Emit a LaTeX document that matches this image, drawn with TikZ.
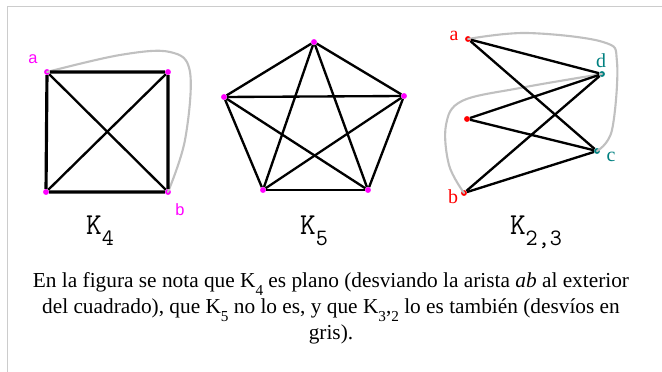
\documentclass[tikz,border=0pt]{standalone}
\usepackage{fontspec}
\setmainfont{Liberation Serif}
\newfontfamily\sansfam{Liberation Sans}
\definecolor{rosa}{RGB}{255,0,255}
\definecolor{verdeazul}{RGB}{0,128,128}
\definecolor{grisdesvio}{RGB}{192,192,192}
\definecolor{marco}{RGB}{204,204,204}
\tikzset{
    vertice/.style={circle, fill=#1, inner sep=0pt, minimum size=5pt},
    arista/.style={line width=2pt},
    borde/.style={line width=2.7pt},
    desvio/.style={draw=grisdesvio, line width=1.8pt, line cap=round},
    nombre/.style={font=\ttfamily\fontsize{26}{26}\selectfont, anchor=base, inner sep=0pt},
    etiqueta/.style={font=\sansfam\fontsize{14}{14}\selectfont, text=#1, inner sep=0pt},
    letra/.style={font=\fontsize{17}{17}\selectfont, text=#1, inner sep=0pt},
    nota/.style={font=\fontsize{18.2}{22.2}\selectfont, align=center, anchor=base, inner sep=0pt}
}
\newcommand{\bajo}[1]{\raisebox{-0.35em}{\fontsize{20}{20}\selectfont #1}}
\newcommand{\sub}[1]{\raisebox{-0.34em}{\fontsize{13}{13}\selectfont #1}}

\begin{document}
\begin{tikzpicture}[x=0.03cm, y=-0.03cm]
\useasboundingbox (0,0) rectangle (662,372);
\draw[marco, line width=0.85pt] (7,372) -- (7,7) -- (662,7);

% K4
\node[vertice=rosa] (a4) at (47,72) {};
\node[vertice=rosa] (d4) at (168,72) {};
\node[vertice=rosa] (c4) at (46,192) {};
\node[vertice=rosa] (b4) at (168,192) {};
\draw[desvio] plot[smooth, tension=0.6] coordinates {(a4) (120,55) (170,52) (190,72) (185,140) (b4)};
\draw[borde] (a4) -- (d4) -- (b4) -- (c4) -- (a4);
\draw[arista] (a4) -- (b4);
\draw[arista] (d4) -- (c4);
\node[etiqueta=rosa] (la4) at (33,59) {a};
\node[etiqueta=rosa] (lb4) at (180,210) {b};
\node[nombre] (n4) at (100,235) {K\bajo{4}};

% K5
\node[vertice=rosa] (p1) at (314,42) {};
\node[vertice=rosa] (p2) at (224,97) {};
\node[vertice=rosa] (p3) at (263,190) {};
\node[vertice=rosa] (p4) at (368,190) {};
\node[vertice=rosa] (p5) at (404,96) {};
\foreach \i/\j in {1/2,1/3,1/4,1/5,2/3,2/4,2/5,3/4,3/5,4/5}
    \draw[arista] (p\i) -- (p\j);
\node[nombre] (n5) at (314,235) {K\bajo{5}};

% K2,3
\node[vertice=red] (a) at (468,39) {};
\node[vertice=red] (m) at (467,119) {};
\node[vertice=red] (b) at (464,193) {};
\node[vertice=verdeazul] (d) at (602,74) {};
\node[vertice=verdeazul] (c) at (597,151) {};
\draw[desvio] plot[smooth, tension=0.6] coordinates {(a) (527,33) (603,42) (617,62) (612,130) (c)};
\draw[desvio] plot[smooth, tension=0.6] coordinates {(d) (520,88) (462,101) (446,125) (449,165) (b)};
\foreach \u in {a,m,b}
    \foreach \v in {d,c}
        \draw[arista] (\u) -- (\v);
\node[letra=red] (la) at (454,36) {a};
\node[letra=red] (lb) at (453,197) {b};
\node[letra=verdeazul] (ld) at (601,61) {d};
\node[letra=verdeazul] (lc) at (611,157) {c};
\node[nombre] (n23) at (536,235) {K\bajo{2,3}};

% nota (base = ultima linea)
\node[nota] (nota) at (331,340) {En la figura se nota que K\sub{4} es plano (desviando la arista \textit{ab} al exterior\\
del cuadrado), que K\sub{5} no lo es, y que K\sub{3},\sub{2} lo es también (desvíos en\\
gris).};
\end{tikzpicture}
\end{document}
